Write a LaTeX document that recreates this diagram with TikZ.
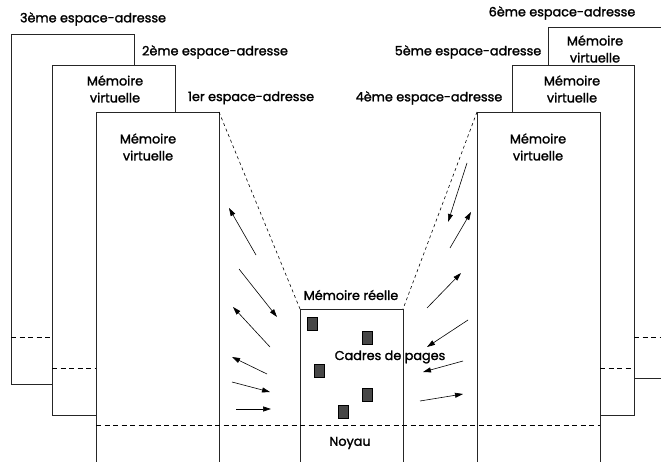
\documentclass[tikz,border=0pt]{standalone}
\usepackage{fontspec}
\setmainfont{Poppins}
\newfontfamily\lblfont{Poppins}[FakeBold=1.6]
\usetikzlibrary{arrows.meta}
\begin{document}
\begin{tikzpicture}[x=1pt,y=-1pt,
  lbl/.style={font=\lblfont\fontsize{12.8}{17}\selectfont, inner sep=0pt, align=center},
  frame/.style={line width=0.7pt, draw=black!85},
  sep/.style={line width=0.7pt, dash pattern=on 5pt off 3.5pt},
  link/.style={line width=0.6pt, dash pattern=on 3pt off 3pt},
  mv/.style={line width=0.6pt, -{Triangle[length=8pt,width=5pt]}},
  cadre/.style={draw=black, fill=black!72, line width=0.5pt, minimum width=10pt, minimum height=13pt, inner sep=0pt}]
\useasboundingbox (0,0) rectangle (661,462);

% address spaces on the left (3rd behind 2nd behind 1st)
\draw[frame] (134,65) -- (134,34) -- (11,34) -- (11,384) -- (52,384);
\draw[sep] (11,337) -- (52,337);
\draw[frame] (175,112) -- (175,65) -- (52,65) -- (52,415) -- (96,415);
\draw[sep] (52,368) -- (96,368);
\draw[frame] (96,462) -- (96,112) coordinate (v1) -- (219,112) coordinate (v1r) -- (219,462);

% real memory in the middle
\draw[frame] (300,462) -- (300,309) coordinate (rl) -- (403,309) coordinate (rr) -- (403,462);

% address spaces on the right (6th behind 5th behind 4th)
\draw[frame] (477,462) -- (477,112) coordinate (v4) -- (600,112) -- (600,462);
\draw[frame] (512,112) -- (512,65) -- (634,65) -- (634,415) -- (600,415);
\draw[sep] (600,368) -- (634,368);
\draw[frame] (548,65) -- (548,27) -- (661,27);
\draw[frame] (634,378) -- (661,378);
\draw[sep] (634,337) -- (661,337);

% kernel boundary
\draw[sep] (96,425) -- (600,425);

% mapping of the virtual space onto real memory
\draw[link] (v1r) -- (rl);
\draw[link] (v4) -- (rr);

% labels
\node[lbl] (e3) at (93,19) {3ème espace-adresse};
\node[lbl] (e2) at (215,52) {2ème espace-adresse};
\node[lbl] (e1) at (251,98) {1er espace-adresse};
\node[lbl] (e6) at (562,13) {6ème espace-adresse};
\node[lbl] (e5) at (468,52) {5ème espace-adresse};
\node[lbl] (e4) at (429,98) {4ème espace-adresse};
\node[lbl] (m2) at (115,89) {Mémoire\\virtuelle};
\node[lbl] (m1) at (148,147) {Mémoire\\virtuelle};
\node[lbl] (m6) at (595,49) {Mémoire\\virtuelle};
\node[lbl] (m5) at (572,89) {Mémoire\\virtuelle};
\node[lbl] (m4) at (538,147) {Mémoire\\virtuelle};
\node[lbl] (mr) at (351,295) {Mémoire réelle};
\node[lbl] (cp) at (390,357) {Cadres de pages};
\node[lbl] (ny) at (350,443) {Noyau};

% page frames
\node[cadre] (c1) at (312,323.5) {};
\node[cadre] (c2) at (367,337.5) {};
\node[cadre] (c3) at (319,371) {};
\node[cadre] (c4) at (367,394.5) {};
\node[cadre] (c5) at (343,411.5) {};

% page movements, left side
\coordinate (la1) at (256,255); \coordinate (lb1) at (229,208);
\coordinate (la2) at (239,269); \coordinate (lb2) at (277,317);
\coordinate (la3) at (270,347); \coordinate (lb3) at (233,307);
\coordinate (la4) at (267,374); \coordinate (lb4) at (232,357);
\coordinate (la5) at (232,382); \coordinate (lb5) at (270,392);
\coordinate (la6) at (236,409); \coordinate (lb6) at (271,409);
\foreach \i in {1,...,6} \draw[mv] (la\i) -- (lb\i);

% page movements, right side
\coordinate (ra1) at (467,163); \coordinate (rb1) at (448,222);
\coordinate (ra2) at (450,248); \coordinate (rb2) at (471,212);
\coordinate (ra3) at (427,308); \coordinate (rb3) at (461,273);
\coordinate (ra4) at (468,320); \coordinate (rb4) at (427,347);
\coordinate (ra5) at (463,361); \coordinate (rb5) at (423,372);
\coordinate (ra6) at (420,401); \coordinate (rb6) at (463,394);
\foreach \i in {1,...,6} \draw[mv] (ra\i) -- (rb\i);
\end{tikzpicture}
\end{document}
